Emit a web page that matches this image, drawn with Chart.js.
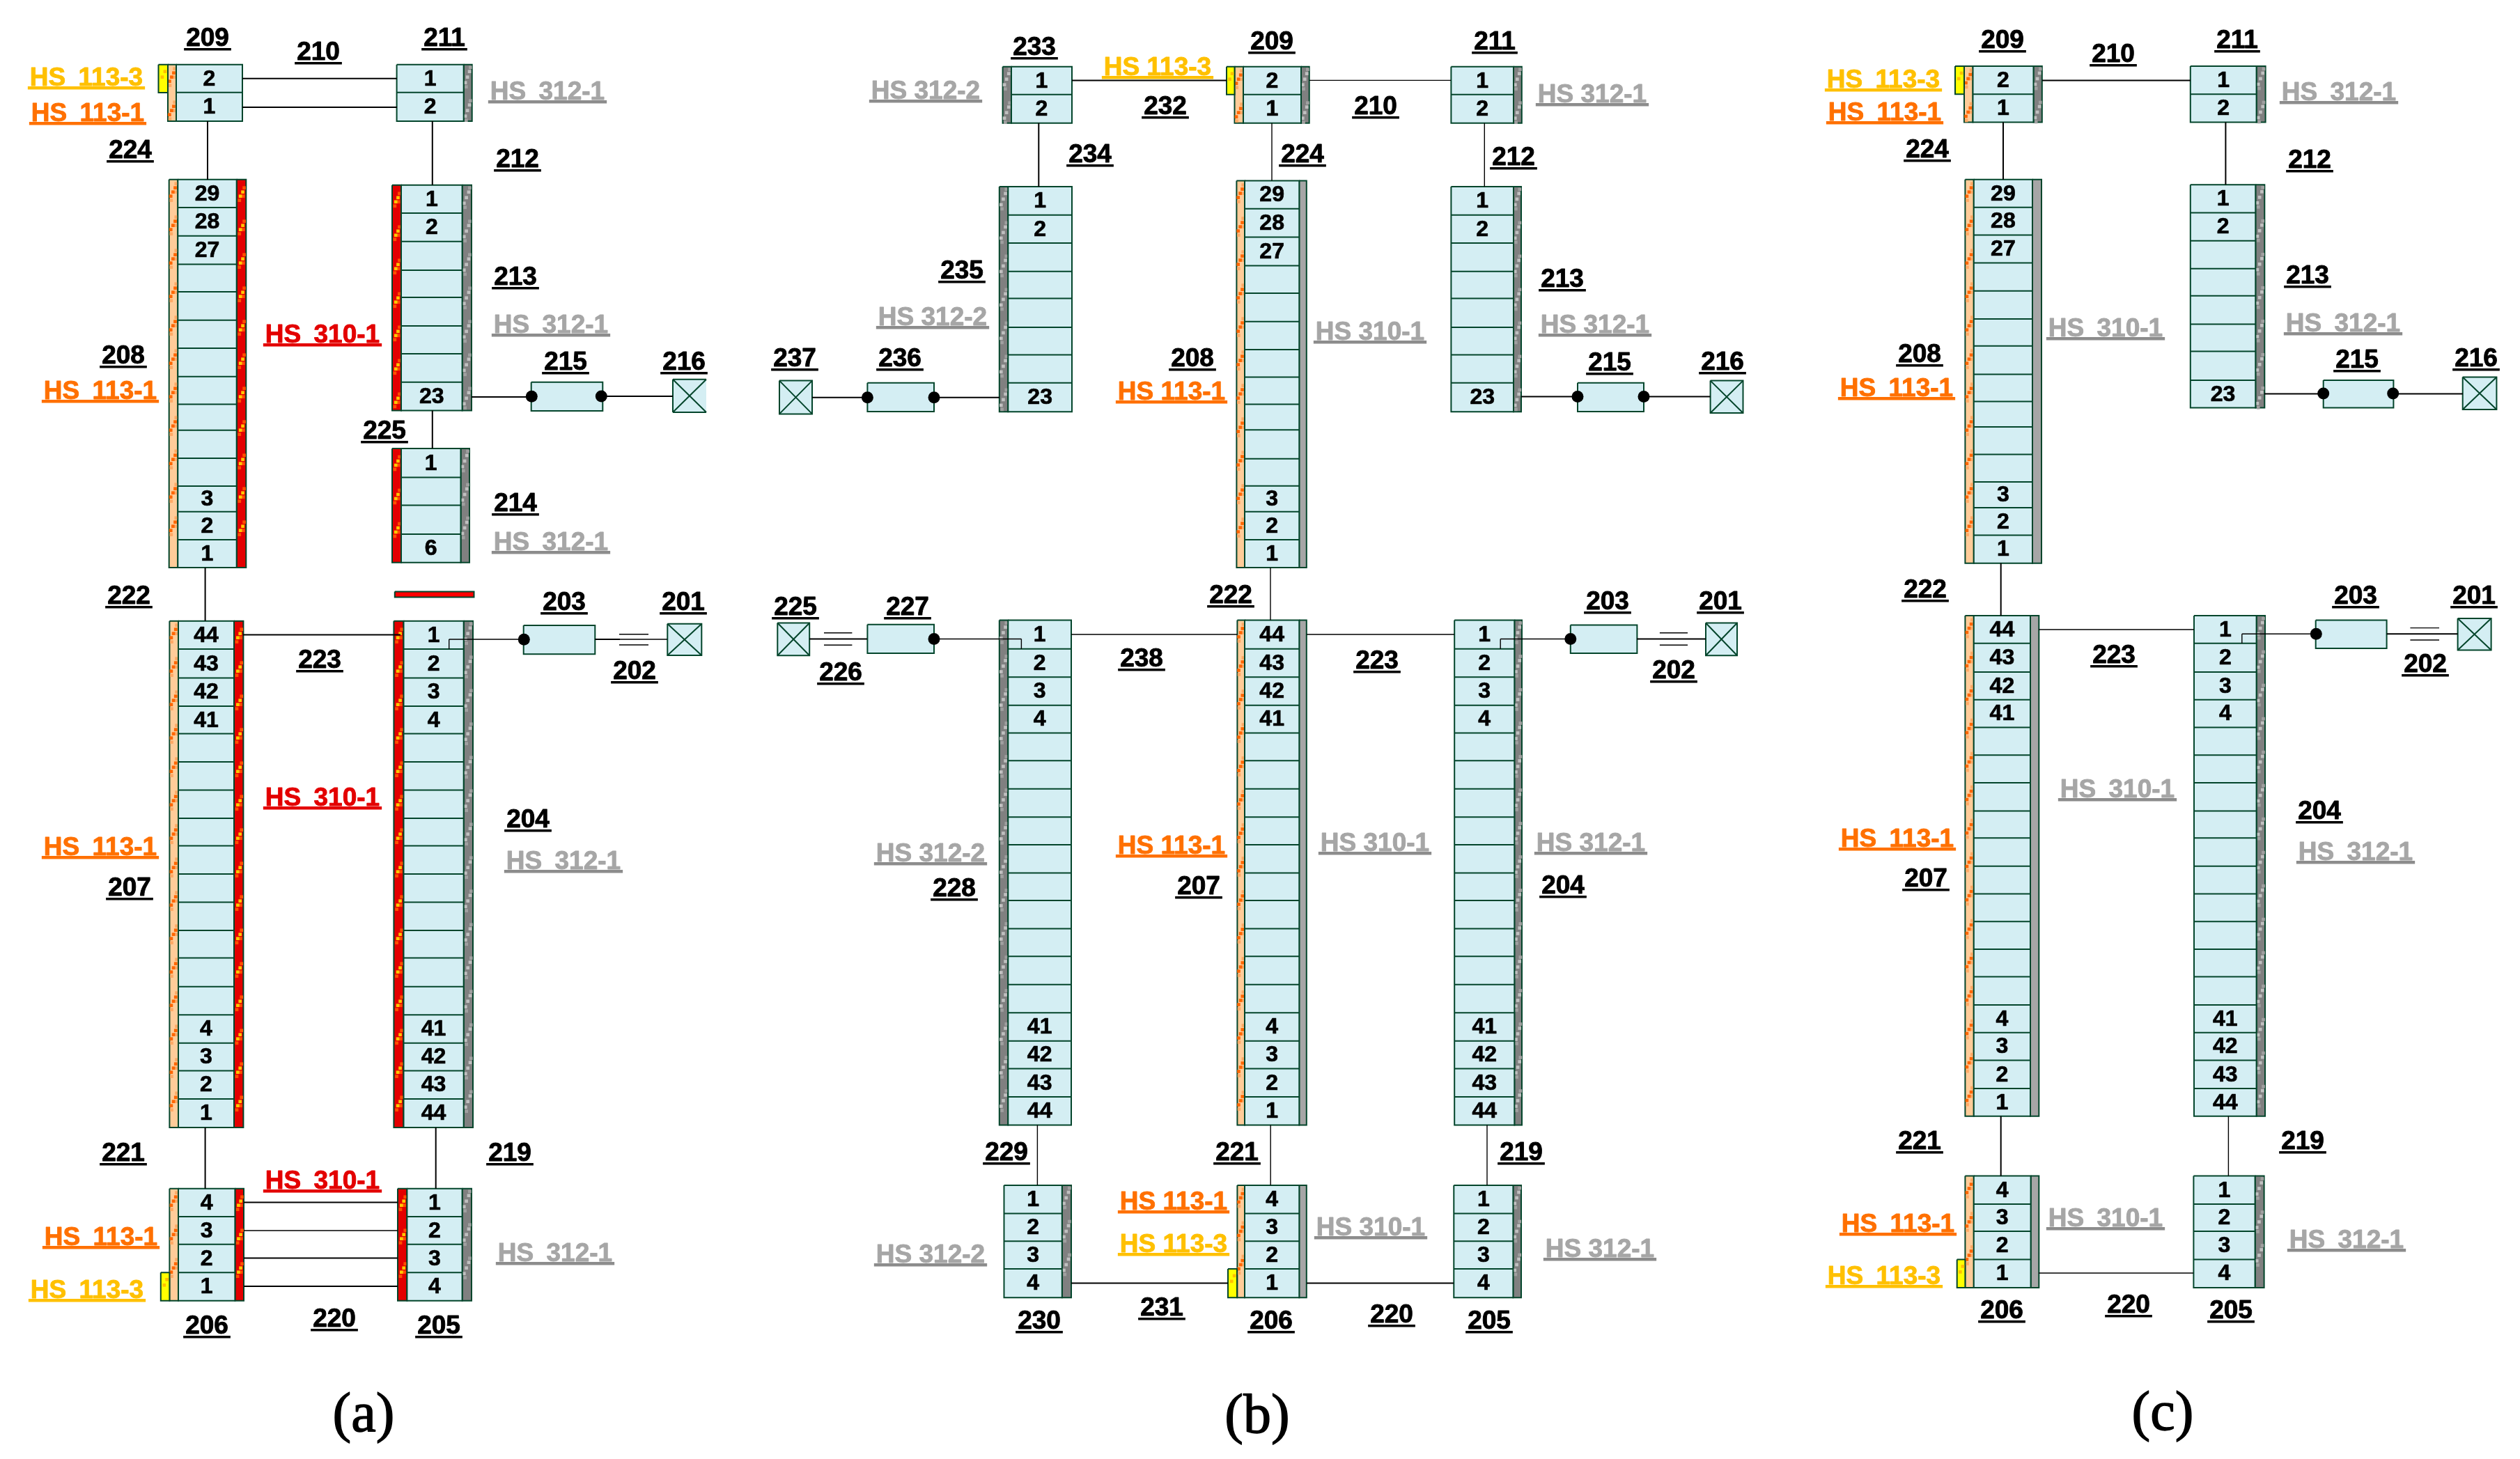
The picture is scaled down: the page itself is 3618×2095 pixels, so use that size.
<!DOCTYPE html>
<html>
<head>
<meta charset="utf-8">
<title>Rack schematic</title>
<script src="https://cdn.jsdelivr.net/npm/chart.js@4/dist/chart.umd.js"></script>
<style>
  html, body { margin: 0; background: #fff; }
  #wrap { width: 3618px; height: 2095px; }
</style>
</head>
<body>
<div id="wrap"><canvas id="chart"></canvas></div>
<script>
// cell numbers, top to bottom
const up2 = ['2', '1'];
const down2 = ['1', '2'];
const up4 = ['4', '3', '2', '1'];
const down4 = ['1', '2', '3', '4'];
const cells4 = ['1', '', '', '6'];
const cells8 = ['1', '2', '', '', '', '', '', '23'];
const cells14 = ['29', '28', '27', '', '', '', '', '', '', '', '', '3', '2', '1'];
const up18 = ['44', '43', '42', '41', '', '', '', '', '', '', '', '', '', '', '4', '3', '2', '1'];
const down18 = ['1', '2', '3', '4', '', '', '', '', '', '', '', '', '', '', '41', '42', '43', '44'];

// cell edges
const e14a = [257.7, 298, 338.7, 379.4, 419, 459.8, 500, 540.8, 580.4, 617.7, 657.9, 698, 734.8, 775, 815];
const e8a = [265.8, 306, 346.7, 388, 427, 467.9, 508, 548.8, 589.5];
const e4top = [644, 685.4, 725.6, 767, 807.7];
const e18a = [891.7, 932, 973.4, 1013.9, 1053.5, 1094, 1134.4, 1174.9, 1214.5, 1255, 1295.5, 1335.9, 1375.6, 1416.8, 1457.3, 1497.8, 1537.4, 1577.9, 1619];
const e4a = [1706.7, 1747, 1786.8, 1827.3, 1867.7];
const e14b = [259.6, 299.7, 340.6, 381.4, 420.9, 461.7, 501.9, 541.5, 580.4, 617.3, 658.8, 697.7, 734.7, 774.9, 815];
const e8b = [267.9, 308.7, 348.9, 389.7, 428.6, 470, 509.6, 549.7, 591.2];
const e18b = [890.5, 931.8, 972.3, 1012.8, 1052.5, 1092.2, 1132.7, 1173.2, 1212.9, 1253.4, 1293, 1333.6, 1373.3, 1413.8, 1454.2, 1494.8, 1534.5, 1575, 1615.4];
const e4b = [1702, 1742.5, 1782.2, 1821.9, 1863.2];
const e14c = [257.7, 297.8, 337.4, 377.6, 417.7, 457.9, 496.8, 537.6, 576.5, 612.9, 652.4, 692, 729, 768.5, 808.7];
const e8c = [265.3, 305.5, 345.7, 385.8, 424.7, 465.6, 504.5, 546, 585.5];
const e18c = [884.1, 923.8, 965.1, 1004.8, 1044.5, 1084.2, 1124, 1164.4, 1203.3, 1243.8, 1283.5, 1323.2, 1362.9, 1402.6, 1443.1, 1482.8, 1522.5, 1563, 1602.7];
const e4c = [1688.5, 1729, 1767.9, 1808.4, 1848.9];

// left strip start, cells start, cells end, right strip end, left kind, right kind, edges, numbers
const racksA = [
  [241, 253, 348, 348, 'orange', '', [92.7, 132.7, 174], up2],
  [569.6, 569.6, 665.7, 677.7, '', 'grey', [92.7, 132.7, 174], down2],
  [242.7, 255.3, 339.7, 353.3, 'orange', 'red', e14a, cells14],
  [563, 576, 663.6, 677, 'red', 'grey', e8a, cells8],
  [563, 576, 661.5, 674, 'red', 'grey', e4top, cells4],
  [243.4, 256, 336, 349.4, 'orange', 'red', e18a, up18],
  [565.4, 579.5, 665.7, 679, 'red', 'grey', e18a, down18],
  [243.4, 256, 337.4, 350, 'orange', 'red', e4a, up4],
  [571, 584.4, 663.6, 677, 'red', 'grey', e4a, down4],
];
const racksB = [
  [1439.6, 1452, 1539, 1539, 'grey', '', [95.7, 135.8, 176.7], down2],
  [1772.5, 1785, 1868, 1879.7, 'orange', 'grey', [95.7, 135.8, 176.7], up2],
  [2083.4, 2083.4, 2173, 2184.8, '', 'grey', [95.7, 135.8, 176.7], down2],
  [1434.8, 1447.3, 1539, 1539, 'grey', '', e8b, cells8],
  [1775.4, 1787, 1865.3, 1875.8, 'orange', 'plain', e14b, cells14],
  [2083.4, 2083.4, 2173, 2184, '', 'grey', e8b, cells8],
  [1434.8, 1447.3, 1538, 1538, 'grey', '', e18b, down18],
  [1776.4, 1787, 1865.3, 1875.8, 'orange', 'plain', e18b, up18],
  [2088.2, 2088.2, 2174.3, 2185, '', 'grey', e18b, down18],
  [1441.5, 1441.5, 1524.8, 1538, '', 'grey', e4b, down4],
  [1776.4, 1787, 1865.3, 1875.8, 'orange', 'plain', e4b, up4],
  [2087.3, 2087.3, 2172.4, 2184, '', 'grey', e4b, down4],
];
const racksC = [
  [2820, 2832.5, 2919.5, 2931.8, 'orange', 'grey', [95, 135.2, 175.4], up2],
  [3144.8, 3144.8, 3239.6, 3252.6, '', 'grey', [95, 135.2, 175.4], down2],
  [2821.4, 2833.8, 2918, 2931, 'orange', 'plain', e14c, cells14],
  [3144.8, 3144.8, 3238.3, 3251.3, '', 'grey', e8c, cells8],
  [2821.4, 2833.8, 2915, 2927.3, 'orange', 'plain', e18c, up18],
  [3150, 3150, 3239.6, 3252, '', 'grey', e18c, down18],
  [2821.4, 2833.8, 2915.6, 2927.3, 'orange', 'plain', e4c, up4],
  [3149.4, 3149.4, 3237.6, 3250.6, '', 'grey', e4c, down4],
];

const yellowTabs = [
  [227.5, 241, 92.7, 133], [230.8, 243.4, 1827.3, 1867.7],
  [1761, 1772.5, 95.7, 135.8], [1763, 1776, 1821.9, 1863.2],
  [2807, 2820, 95, 135.2], [2809.7, 2821.4, 1808.4, 1848.9],
];
const plainBoxes = [
  [762.7, 865.3, 548.7, 590], [751.7, 854.3, 898, 939.3],
  [1245.4, 1341, 549.7, 591], [2265, 2360, 549.7, 591], [1245.4, 1341, 896.8, 938], [2254.8, 2350.4, 897.6, 938],
  [3335.7, 3436.4, 546, 585.5], [3324.7, 3426.6, 890.5, 931],
];
const crossBoxes = [
  [958.3, 1007.3, 895.7, 941],
  [1119, 1166, 546.6, 594.4], [2455.6, 2502.5, 546.6, 593], [1116.3, 1162.2, 894.5, 941.3], [2449, 2494, 894.5, 941.3],
  [3535.7, 3584.4, 541.5, 588], [3528.6, 3576.6, 888, 933.4],
];
// box 216 of panel (a) is cut off by the image edge of that panel
const cutCrossBox = [966, 1014, 544.7, 592];
const redBar = [566.8, 680.5, 849.5, 857.5];
const dots = [
  [763.3, 569.3], [863.3, 569], [752.3, 918.3],
  [1245.4, 570.8], [1341, 570.8], [2265, 569.5], [2360, 569.5], [1341, 917.5], [2254.8, 917.5],
  [3335.7, 565], [3435.7, 565], [3325.3, 910.3],
];

const heavyLines = [
  [348, 112.7, 570, 112.7], [348, 154, 570, 154], [298, 174, 298, 258], [620.8, 174, 620.8, 265.8],
  [620.8, 589.5, 620.8, 644], [294.6, 815, 294.6, 891.7], [349, 911.5, 575, 911.5], [294.6, 1619, 294.6, 1706.7],
  [625.7, 1619, 625.7, 1706.7], [350, 1726.5, 571, 1726.5], [350, 1806.6, 571, 1806.6], [350, 1847, 571, 1847],
  [677, 570, 763, 570], [863, 569, 966, 569], [854, 918, 890, 918],
  [1539, 115.4, 1761, 115.4], [1491.3, 176.7, 1491.3, 267.9], [1166, 570.8, 1245, 570.8], [1341, 570.8, 1435, 570.8],
  [2184, 569.5, 2265, 569.5], [2360, 569.5, 2455.6, 569.5], [1538, 1842.6, 1763, 1842.6], [1876, 1842.6, 2087, 1842.6],
  [1162, 917.5, 1245, 917.5], [2350, 917.5, 2449, 917.5],
  [2932, 115.4, 3145, 115.4], [2876, 175.4, 2876, 257.7], [3195.4, 175.4, 3195.4, 265.3], [3251, 565.5, 3336, 565.5],
  [3436, 565.5, 3536, 565.5], [2872.7, 808.7, 2872.7, 884.1], [2872.7, 1602.7, 2872.7, 1688.5], [3426.6, 910.3, 3528.6, 910.3],
];
const thinLines = [
  [350, 1767, 571, 1767], [644.7, 932, 644.7, 918], [644.7, 918, 752, 918], [890, 918, 958, 918],
  [889, 910.7, 931, 910.7], [889, 926, 931, 926],
  [1880, 115.4, 2083, 115.4], [1826, 176.7, 1826, 259.6], [2131.3, 176.7, 2131.3, 267.9], [1824, 815, 1824, 890.5],
  [1538, 911, 1776, 911], [1876, 911, 2088, 911], [1489.4, 1615.4, 1489.4, 1702], [1824.2, 1615.4, 1824.2, 1702],
  [2135, 1615.4, 2135, 1702], [1341, 917.5, 1466.4, 917.5], [1466.4, 917.5, 1466.4, 931.8],
  [2154.2, 931.8, 2154.2, 917.5], [2154.2, 917.5, 2254.8, 917.5],
  [1183, 908.8, 1223.4, 908.8], [1183, 926.2, 1223.4, 926.2], [2382.9, 908.8, 2423, 908.8], [2382.9, 926.2, 2423, 926.2],
  [2927, 904, 3150, 904], [3199.4, 1602.7, 3199.4, 1688.5], [2927, 1828, 3149, 1828],
  [3218.8, 923.8, 3218.8, 910.3], [3218.8, 910.3, 3325, 910.3], [3460.4, 901.6, 3502, 901.6], [3460.4, 919, 3502, 919],
];

// reference numbers: text, centre, baseline
const numberLabels = [
  ['209', 298, 66], ['211', 638, 66], ['210', 457, 86], ['224', 187, 227], ['212', 743, 240], ['213', 740, 409],
  ['215', 812, 531], ['216', 982, 531], ['208', 177, 522], ['225', 552, 630], ['214', 740, 734], ['222', 185, 867],
  ['203', 810, 876], ['201', 981, 876], ['223', 459, 959], ['202', 911, 975], ['204', 758, 1188], ['207', 186, 1286],
  ['221', 177, 1667], ['219', 732, 1667], ['206', 297, 1915], ['220', 480, 1905], ['205', 630, 1915],
  ['233', 1485, 79], ['209', 1826, 71], ['211', 2146, 71], ['232', 1673, 164], ['210', 1975, 164], ['234', 1565, 233],
  ['224', 1870, 233], ['212', 2173, 237], ['235', 1381, 400], ['213', 2243, 412], ['237', 1141, 526], ['236', 1292, 526],
  ['208', 1712, 526], ['215', 2311, 532], ['216', 2473, 531], ['222', 1767, 866], ['225', 1142, 883], ['227', 1303, 883],
  ['203', 2308, 875], ['201', 2470, 875], ['238', 1639, 957], ['223', 1977, 960], ['226', 1207, 977], ['202', 2403, 974],
  ['228', 1370, 1287], ['207', 1721, 1284], ['204', 2244, 1283], ['229', 1445, 1666], ['221', 1776, 1666], ['219', 2184, 1666],
  ['230', 1492, 1908], ['231', 1668, 1889], ['206', 1825, 1908], ['220', 1998, 1899], ['205', 2138, 1908],
  ['209', 2875, 69], ['211', 3212, 69], ['210', 3034, 89], ['224', 2767, 226], ['212', 3316, 241], ['213', 3313, 407],
  ['208', 2756, 520], ['215', 3384, 528], ['216', 3555, 526], ['222', 2764, 858], ['203', 3382, 867], ['201', 3552, 867],
  ['223', 3035, 952], ['202', 3482, 965], ['204', 3330, 1176], ['207', 2765, 1273], ['221', 2756, 1650], ['219', 3306, 1650],
  ['206', 2874, 1893], ['220', 3056, 1885], ['205', 3203, 1893],
];
// type labels: centre, baseline
const hs1133 = [[124, 123], [125, 1864], [1662, 108], [1685, 1798], [2704, 126], [2705, 1844]];
const hs1131 = [[126, 174], [144, 573], [144, 1228], [145, 1788], [1682, 574], [1682, 1226], [1685, 1737], [2706, 173], [2723, 569], [2724, 1216], [2725, 1769]];
const hs3101Red = [[463, 492], [463, 1157], [463, 1707]];
const hs3101Grey = [[1967, 488], [1974, 1222], [1968, 1774], [3023, 483], [3040, 1145], [3023, 1761]];
const hs3121 = [[786, 143], [791, 478], [791, 790], [809, 1248], [797, 1811], [2286, 147], [2290, 478], [2284, 1222], [2297, 1805], [3358, 144], [3364, 476], [3382, 1235], [3369, 1792]];
const hs3122 = [[1329, 142], [1339, 467], [1336, 1237], [1336, 1813]];
const captions = [['(a)', 522, 2055], ['(b)', 1805, 2057], ['(c)', 3105, 2053]];

const GREEN = '#03452B';
const CELL = '#D4EEF3';
const stripBase = { orange: '#FFCC99', red: '#E30000', grey: '#808080', plain: '#A6A6A6', yellow: '#FFFF00' };
// texture squares: colour, then [fraction across strip, offset down one repeat]
const stripMarks = {
  orange: [['#FFAA66', [[0.8, 6], [0.25, 30], [0.75, 18]]], ['#FF6600', [[0.7, 12], [0.45, 18], [0.2, 24]]]],
  red: [['#FF5000', [[0.8, 12], [0.7, 24], [0.3, 30]]], ['#FFC800', [[0.65, 18], [0.4, 24]]]],
  grey: [['#A0A0A0', [[0.8, 4], [0.3, 32]]], ['#C0C0C0', [[0.7, 10], [0.45, 18], [0.2, 26]]]],
  yellow: [['#FFC000', [[0.7, 10], [0.4, 18]]]],
};

const datasets = [];
const add = (d) => { d.order = -datasets.length; d.showLine = d.showLine !== false; datasets.push(d); };

function box(x0, x1, y0, y1, fillColor, withBorder = true) {
  add({
    data: [{ x: x0, y: y0 }, { x: x1, y: y0 }, { x: x1, y: y1 }, { x: x0, y: y1 }, { x: x0, y: y0 }],
    fill: 'shape', backgroundColor: fillColor,
    borderColor: withBorder ? GREEN : fillColor, borderWidth: withBorder ? 2 : 0, pointRadius: 0,
  });
}

function lines(list, color, width) {
  const data = [];
  list.forEach(([x0, y0, x1, y1]) => data.push({ x: x0, y: y0 }, { x: x1, y: y1 }, { x: NaN, y: NaN }));
  add({ data, borderColor: color, borderWidth: width, pointRadius: 0, fill: false });
}

function strip(x0, x1, y0, y1, kind) {
  if (x1 <= x0 || !kind) return;
  box(x0, x1, y0, y1, stripBase[kind]);
  (stripMarks[kind] || []).forEach(([color, offsets]) => {
    const data = [];
    for (let y = y0; y < y1 - 30; y += 48) {
      offsets.forEach(([fx, dy]) => data.push({ x: x0 + (x1 - x0) * fx, y: y + dy }));
    }
    add({ data, showLine: false, pointStyle: 'rect', pointRadius: 3.3, pointBackgroundColor: color, pointBorderWidth: 0 });
  });
}

const racks = [...racksA, ...racksB, ...racksC];
const cellLabels = [];
racks.forEach(([x0, x1, x2, x3, left, right, edges, numbers]) => {
  const top = edges[0];
  const bottom = edges[edges.length - 1];
  strip(x0, x1, top, bottom, left);
  strip(x2, x3, top, bottom, right);
  box(x1, x2, top, bottom, CELL);
  lines(edges.slice(1, -1).map((y) => [x1, y, x2, y]), GREEN, 2);
  numbers.forEach((n, i) => {
    if (n) cellLabels.push([n, (x1 + x2) / 2, (edges[i] + edges[i + 1]) / 2]);
  });
});
yellowTabs.forEach(([x0, x1, y0, y1]) => strip(x0, x1, y0, y1, 'yellow'));
plainBoxes.forEach(([x0, x1, y0, y1]) => box(x0, x1, y0, y1, CELL));
crossBoxes.forEach(([x0, x1, y0, y1]) => {
  box(x0, x1, y0, y1, CELL);
  lines([[x0, y0, x1, y1], [x0, y1, x1, y0]], GREEN, 2);
});
{
  const [x0, x1, y0, y1] = cutCrossBox;
  box(x0, x1, y0, y1, CELL, false);
  lines([[x1, y0, x0, y0], [x0, y0, x0, y1], [x0, y1, x1, y1], [x0, y0, x1, y1], [x0, y1, x1, y0]], GREEN, 2);
}
box(redBar[0], redBar[1], redBar[2], redBar[3], '#FF0000');
lines(thinLines, '#000000', 1.4);
lines(heavyLines, '#000000', 2);
add({ data: dots.map(([x, y]) => ({ x, y })), showLine: false, pointStyle: 'circle', pointRadius: 8.5, pointBackgroundColor: '#000', pointBorderWidth: 0 });

const textPlugin = {
  id: 'schematicText',
  afterDatasetsDraw(chart) {
    const { ctx, scales } = chart;
    const px = (x) => scales.x.getPixelForValue(x);
    const py = (y) => scales.y.getPixelForValue(y);
    const heavyText = (t, x, y, color, weight) => {
      ctx.fillStyle = color;
      ctx.strokeStyle = color;
      ctx.lineWidth = weight;
      ctx.fillText(t, x, y);
      ctx.strokeText(t, x, y);
    };
    ctx.save();
    ctx.textAlign = 'center';
    ctx.lineJoin = 'round';

    ctx.font = 'bold 32px "Liberation Sans"';
    ctx.textBaseline = 'middle';
    cellLabels.forEach(([t, x, y]) => heavyText(t, px(x), py(y) + 1, '#000', 0.7));

    ctx.textBaseline = 'alphabetic';
    ctx.font = 'bold 37px "Liberation Sans"';
    const label = (t, x, y, color, lineColor, gap, thick) => {
      const w = ctx.measureText(t).width;
      heavyText(t, px(x), py(y), color, 0.9);
      ctx.fillStyle = lineColor;
      ctx.fillRect(px(x) - w / 2 - 3, py(y) + gap, w + 6, thick);
    };
    numberLabels.forEach(([t, x, y]) => label(t, x, y, '#000', '#000', 3, 3.5));
    const group = (list, t, color, lineColor) => list.forEach(([x, y]) => {
      ctx.wordSpacing = x < 1100 || x > 2600 ? '8px' : '0px';
      label(t, x, y, color, lineColor, 1, 4.5);
    });
    group(hs1133, 'HS 113-3', '#FFC000', '#FFC000');
    group(hs1131, 'HS 113-1', '#FF7000', '#FF7000');
    group(hs3101Red, 'HS 310-1', '#E30000', '#E30000');
    group(hs3101Grey, 'HS 310-1', '#A6A6A6', '#8C8C8C');
    group(hs3121, 'HS 312-1', '#A6A6A6', '#8C8C8C');
    group(hs3122, 'HS 312-2', '#A6A6A6', '#8C8C8C');
    ctx.wordSpacing = '0px';

    ctx.font = '80px "Liberation Serif"';
    captions.forEach(([t, x, y]) => heavyText(t, px(x), py(y), '#000', 1.4));
    ctx.restore();
  },
};

new Chart(document.getElementById('chart'), {
  type: 'scatter',
  data: { datasets },
  plugins: [textPlugin],
  options: {
    responsive: true,
    maintainAspectRatio: false,
    devicePixelRatio: 1,
    animation: false,
    layout: { autoPadding: false, padding: 0 },
    plugins: { legend: { display: false }, tooltip: { enabled: false } },
    scales: {
      x: { type: 'linear', min: 0, max: 3618, display: false },
      y: { type: 'linear', min: 0, max: 2095, reverse: true, display: false },
    },
  },
});
</script>
</body>
</html>
